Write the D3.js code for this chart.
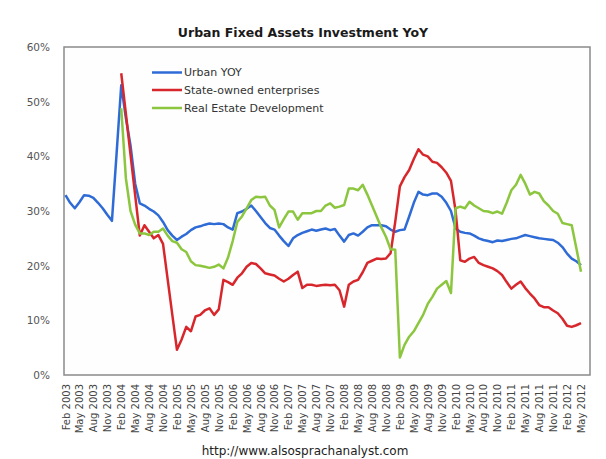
<!DOCTYPE html>
<html>
<head>
<meta charset="utf-8">
<script src="https://cdn.jsdelivr.net/npm/d3@7"></script>
<style>
  body { margin: 0; background: #ffffff; }
  svg { display: block; }
</style>
</head>
<body>
<svg id="chart" width="606" height="459"></svg>
<script>
// ---- Data (monthly, Feb 2003 .. May 2012) ----
const tickLabels = [
  "Feb 2003","May 2003","Aug 2003","Nov 2003",
  "Feb 2004","May 2004","Aug 2004","Nov 2004",
  "Feb 2005","May 2005","Aug 2005","Nov 2005",
  "Feb 2006","May 2006","Aug 2006","Nov 2006",
  "Feb 2007","May 2007","Aug 2007","Nov 2007",
  "Feb 2008","May 2008","Aug 2008","Nov 2008",
  "Feb 2009","May 2009","Aug 2009","Nov 2009",
  "Feb 2010","May 2010","Aug 2010","Nov 2010",
  "Feb 2011","May 2011","Aug 2011","Nov 2011",
  "Feb 2012","May 2012"
];
const yTicks = [0, 10, 20, 30, 40, 50, 60];
const seriesNames = ["Urban YOY", "State-owned enterprises", "Real Estate Development"];

const urbanYOY = [
  32.9,31.5,30.5,31.6,32.9,32.8,32.4,31.5,30.5,29.3,28.2,40.5,
  53.0,47.0,42.0,35.0,31.4,31.0,30.4,29.9,29.2,28.0,26.5,25.5,
  24.7,25.3,25.8,26.5,27.0,27.2,27.5,27.7,27.6,27.7,27.6,27.0,
  26.6,29.6,29.9,30.4,31.0,30.0,28.9,27.8,26.9,26.6,25.5,24.5,
  23.6,25.0,25.6,26.0,26.3,26.6,26.4,26.6,26.8,26.5,26.7,25.5,
  24.4,25.6,25.9,25.5,26.2,27.0,27.4,27.4,27.4,27.2,26.6,26.2,
  26.5,26.6,29.0,31.5,33.5,33.0,32.9,33.2,33.2,32.6,31.5,30.0,
  26.8,26.2,26.0,25.9,25.5,25.0,24.7,24.5,24.3,24.6,24.5,24.7,
  24.9,25.0,25.3,25.6,25.4,25.2,25.0,24.9,24.8,24.7,24.2,23.4,
  22.2,21.3,20.8,20.1
];
const stateOwned = [
  null,null,null,null,null,null,null,null,null,null,null,null,
  55.2,47.8,40.3,32.9,25.5,27.4,26.2,25.0,25.6,24.0,17.5,11.0,
  4.6,6.5,8.8,8.0,10.7,11.0,11.8,12.2,11.0,12.0,17.4,17.0,
  16.5,17.8,18.6,19.8,20.5,20.3,19.5,18.6,18.4,18.2,17.6,17.1,
  17.6,18.3,18.9,15.9,16.5,16.5,16.3,16.4,16.5,16.4,16.5,15.5,
  12.5,16.5,17.1,17.4,18.8,20.5,20.9,21.3,21.2,21.3,22.3,28.0,
  34.5,36.2,37.5,39.5,41.3,40.3,40.0,39.0,38.8,38.0,37.0,35.5,
  30.0,21.0,20.7,21.3,21.6,20.5,20.1,19.8,19.5,19.0,18.3,17.0,
  15.8,16.5,17.1,15.9,14.9,14.0,12.8,12.4,12.4,11.8,11.3,10.3,
  9.0,8.8,9.1,9.5
];
const realEstate = [
  null,null,null,null,null,null,null,null,null,null,null,null,
  48.8,36.0,30.0,27.5,25.9,25.9,25.6,26.2,26.2,26.8,25.5,24.5,
  24.2,23.0,22.5,20.8,20.1,20.0,19.8,19.6,19.8,20.2,19.5,21.5,
  24.5,28.0,29.0,30.5,32.0,32.6,32.5,32.6,31.0,30.2,27.0,28.5,
  29.9,29.9,28.4,29.6,29.6,29.6,30.0,30.0,31.0,31.4,30.6,30.8,
  31.1,34.1,34.1,33.8,34.8,33.0,31.0,29.0,27.0,25.3,23.0,22.9,
  3.2,5.5,7.0,8.0,9.5,11.0,13.0,14.3,15.8,16.5,17.2,15.0,
  30.5,30.8,30.5,31.7,31.0,30.5,30.0,29.9,29.6,29.9,29.5,31.5,
  33.8,34.8,36.6,35.0,33.0,33.5,33.2,31.8,31.0,30.0,29.5,27.8,
  27.6,27.4,23.2,18.9
];
const colors = ["#2f6bd6", "#d8272c", "#8cc63e"];

// ---- Layout ----
const svg = d3.select("#chart");
const plot = { left: 64, right: 590, top: 47, bottom: 375 };

const x = d3.scaleLinear().domain([0, urbanYOY.length - 1]).range([65.5, 581]);
const y = d3.scaleLinear().domain([0, 60]).range([plot.bottom, plot.top]);

// Plot frame
svg.append("rect")
  .attr("x", plot.left).attr("y", plot.top)
  .attr("width", plot.right - plot.left).attr("height", plot.bottom - plot.top)
  .attr("fill", "#fdfefd").attr("stroke", "#8a8a8a").attr("stroke-width", 1.5);

// Title
svg.append("text")
  .attr("x", 303).attr("y", 37)
  .attr("text-anchor", "middle")
  .attr("font-family", "'DejaVu Sans', Verdana, sans-serif")
  .attr("font-weight", "bold").attr("font-size", 12.5)
  .attr("fill", "#1a1a1a")
  .text("Urban Fixed Assets Investment YoY");

// Y axis
const yAxis = d3.axisLeft(y).tickValues(yTicks).tickFormat(d => d + "%").tickSize(0).tickPadding(14);
const gy = svg.append("g").attr("transform", `translate(${plot.left},0)`).call(yAxis);
gy.select(".domain").remove();
gy.selectAll("text")
  .attr("font-family", "'DejaVu Sans', Verdana, sans-serif")
  .attr("font-size", 10.5).attr("fill", "#555");

// X axis
const tickIdx = tickLabels.map((_, i) => i * 3);
const xAxis = d3.axisBottom(x).tickValues(tickIdx).tickFormat((d, i) => tickLabels[i]).tickSize(0);
const gx = svg.append("g").attr("transform", `translate(0,${plot.bottom})`).call(xAxis);
gx.select(".domain").remove();
gx.selectAll("text")
  .attr("font-family", "'DejaVu Sans', Verdana, sans-serif")
  .attr("font-size", 10).attr("fill", "#444")
  .attr("text-anchor", "end")
  .attr("transform", "rotate(-90)")
  .attr("x", -9).attr("y", 0).attr("dy", "0.35em");

// Lines
const allSeries = [urbanYOY, stateOwned, realEstate];
const line = d3.line()
  .defined(d => d !== null)
  .x((d, i) => x(i))
  .y(d => y(d));
[0, 1, 2].forEach(k => {
  svg.append("path")
    .datum(allSeries[k])
    .attr("fill", "none")
    .attr("stroke", colors[k])
    .attr("stroke-width", 2.5)
    .attr("stroke-linejoin", "round")
    .attr("d", line);
});

// Legend
const legend = svg.append("g");
const legY = [72.5, 90, 108];
seriesNames.forEach((name, k) => {
  legend.append("line")
    .attr("x1", 152).attr("x2", 182)
    .attr("y1", legY[k]).attr("y2", legY[k])
    .attr("stroke", colors[k]).attr("stroke-width", 2.5);
  legend.append("text")
    .attr("x", 184).attr("y", legY[k]).attr("dy", "0.35em")
    .attr("font-family", "'DejaVu Sans', Verdana, sans-serif")
    .attr("font-size", 11).attr("fill", "#333")
    .text(name);
});

// Footer
svg.append("text")
  .attr("x", 305).attr("y", 455)
  .attr("text-anchor", "middle")
  .attr("font-family", "'DejaVu Sans', Verdana, sans-serif")
  .attr("font-size", 12).attr("fill", "#222")
  .text("http://www.alsosprachanalyst.com");
</script>
</body>
</html>
